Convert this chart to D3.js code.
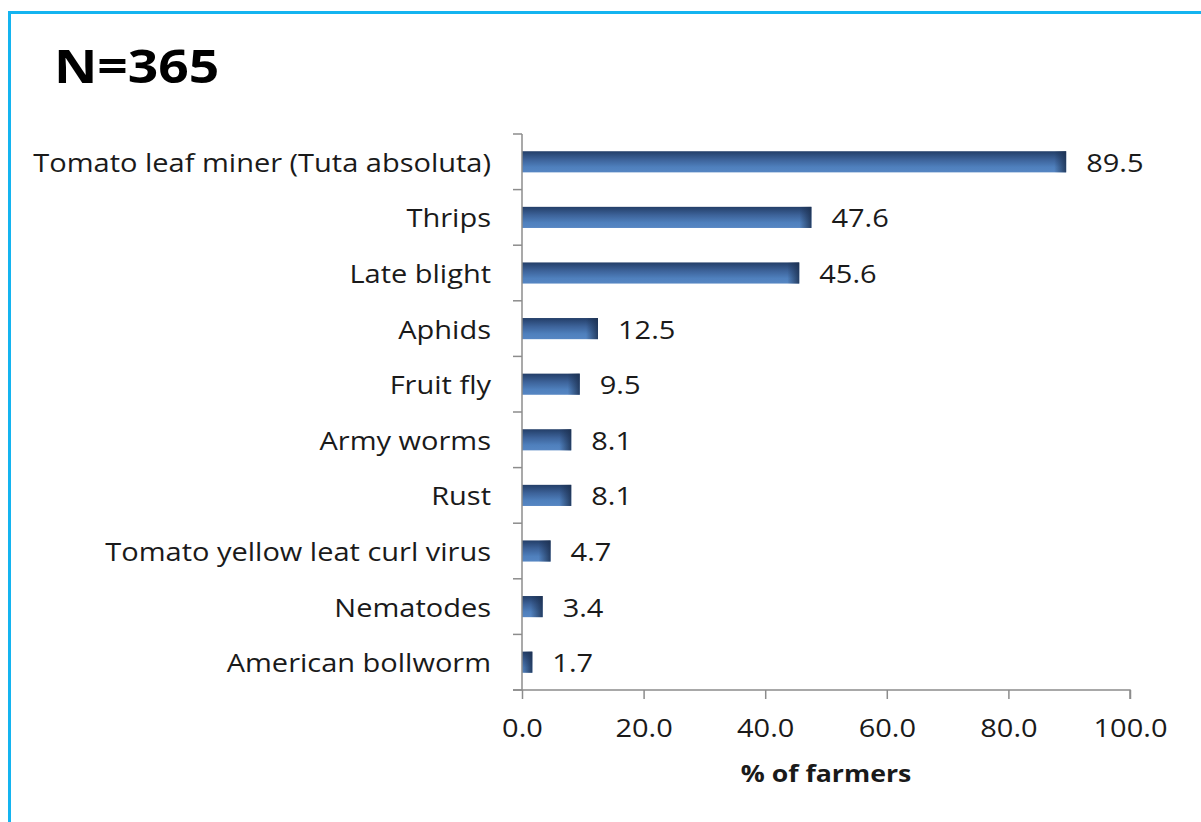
<!DOCTYPE html>
<html>
<head>
<meta charset="utf-8">
<script src="https://cdn.jsdelivr.net/npm/d3@7"></script>
<style>
  body { margin: 0; background: #fff; }
  svg text { font-family: "Open Sans", sans-serif; fill: #1a1a1a; }
</style>
</head>
<body>
<div id="chart"></div>
<script>
// donnees
var pests = ["Tomato leaf miner (Tuta absoluta)", "Thrips", "Late blight", "Aphids", "Fruit fly",
  "Army worms", "Rust", "Tomato yellow leat curl virus", "Nematodes", "American bollworm"];
var percents = [89.5, 47.6, 45.6, 12.5, 9.5, 8.1, 8.1, 4.7, 3.4, 1.7];
var xticks = [0, 20, 40, 60, 80, 100];

var width = 1201, height = 822;
var sx = 1.16; // le texte de l'image est etire en largeur
var svg = d3.select("#chart").append("svg")
  .attr("width", width)
  .attr("height", height);

function place (xpos, ypos){
  return "translate(" + xpos + "," + ypos + ") scale(" + sx + ",1)";
}

// cadre bleu
svg.append("path")
  .attr("d", "M9.5," + height + " L9.5,12.5 L" + width + ",12.5")
  .attr("fill", "none")
  .attr("stroke", "#14b4f0")
  .attr("stroke-width", 3);

svg.append("text")
  .attr("transform", place(54, 83))
  .attr("font-size", "46px")
  .attr("font-weight", "bold")
  .style("fill", "#000")
  .text("N=365");

var x = d3.scaleLinear().domain([0, 100]).range([522, 1130]);
var y = d3.scaleBand().domain(pests).range([134, 690]).paddingInner(0.62).paddingOuter(0.31);
var yfull = d3.scaleBand().domain(pests).range([134, 690]);

var defs = svg.append("defs");
var grad = defs.append("linearGradient").attr("id", "bargrad")
  .attr("x1", 0).attr("y1", 0).attr("x2", 0).attr("y2", 1);
grad.append("stop").attr("offset", "0%").attr("stop-color", "#233e68");
grad.append("stop").attr("offset", "40%").attr("stop-color", "#3d639a");
grad.append("stop").attr("offset", "75%").attr("stop-color", "#4f80bd");
grad.append("stop").attr("offset", "100%").attr("stop-color", "#5686c3");
var edge = defs.append("linearGradient").attr("id", "edgegrad")
  .attr("x1", 0).attr("y1", 0).attr("x2", 1).attr("y2", 0);
edge.append("stop").attr("offset", "0%").attr("stop-color", "#1c3050").attr("stop-opacity", 0);
edge.append("stop").attr("offset", "100%").attr("stop-color", "#1c3050").attr("stop-opacity", 0.85);

var bars = svg.append("g");
bars.selectAll("rect.bar")
  .data(percents)
  .join("rect")
  .attr("class", "bar")
  .attr("x", x(0))
  .attr("y", function (d, i) { return y(pests[i]); })
  .attr("width", function (d) { return x(d) - x(0); })
  .attr("height", y.bandwidth())
  .attr("fill", "url(#bargrad)");
bars.selectAll("rect.edge")
  .data(percents)
  .join("rect")
  .attr("class", "edge")
  .attr("x", function (d) { return x(d) - Math.min(12, x(d) - x(0)); })
  .attr("y", function (d, i) { return y(pests[i]); })
  .attr("width", function (d) { return Math.min(12, x(d) - x(0)); })
  .attr("height", y.bandwidth())
  .attr("fill", "url(#edgegrad)");

svg.append("g").selectAll("text")
  .data(percents)
  .join("text")
  .attr("transform", function (d, i) {
    return place(x(d) + 20, y(pests[i]) + y.bandwidth() / 2 + 10);
  })
  .attr("font-size", "25px")
  .text(function (d) { return d.toFixed(1); });

// axe vertical
var axcol = "#8c8c8c";
svg.append("line")
  .attr("x1", x(0)).attr("x2", x(0))
  .attr("y1", 134).attr("y2", 690)
  .attr("stroke", axcol).attr("stroke-width", 1.5);
svg.append("g").selectAll("line")
  .data(pests.concat(["end"]))
  .join("line")
  .attr("x1", x(0) - 9).attr("x2", x(0))
  .attr("y1", function (d, i) { return i < pests.length ? yfull(d) : 690; })
  .attr("y2", function (d, i) { return i < pests.length ? yfull(d) : 690; })
  .attr("stroke", axcol).attr("stroke-width", 1.5);

svg.append("g").selectAll("text")
  .data(pests)
  .join("text")
  .attr("transform", function (d) { return place(491, yfull(d) + yfull.bandwidth() / 2 + 10); })
  .attr("text-anchor", "end")
  .attr("font-size", "25px")
  .text(function (d) { return d; });

// axe horizontal
var xaxis = svg.append("g")
  .attr("transform", "translate(0,690)")
  .call(d3.axisBottom(x).tickValues(xticks).tickSize(9).tickPadding(16)
    .tickFormat(function (d) { return d.toFixed(1); }));
xaxis.select(".domain").attr("stroke", axcol).attr("stroke-width", 1.5)
  .attr("d", "M" + (x(0) - 9) + ",0H" + x(100) + "V9");
xaxis.selectAll(".tick line").attr("stroke", axcol).attr("stroke-width", 1.5);
xaxis.selectAll(".tick text")
  .attr("y", null).attr("dy", null)
  .attr("transform", place(0, 47))
  .attr("font-size", "25px")
  .style("font-family", "'Open Sans', sans-serif")
  .style("fill", "#1a1a1a");

svg.append("text")
  .attr("transform", place(826, 782))
  .attr("text-anchor", "middle")
  .attr("font-size", "23px")
  .attr("font-weight", "bold")
  .text("% of farmers");
</script>
</body>
</html>
